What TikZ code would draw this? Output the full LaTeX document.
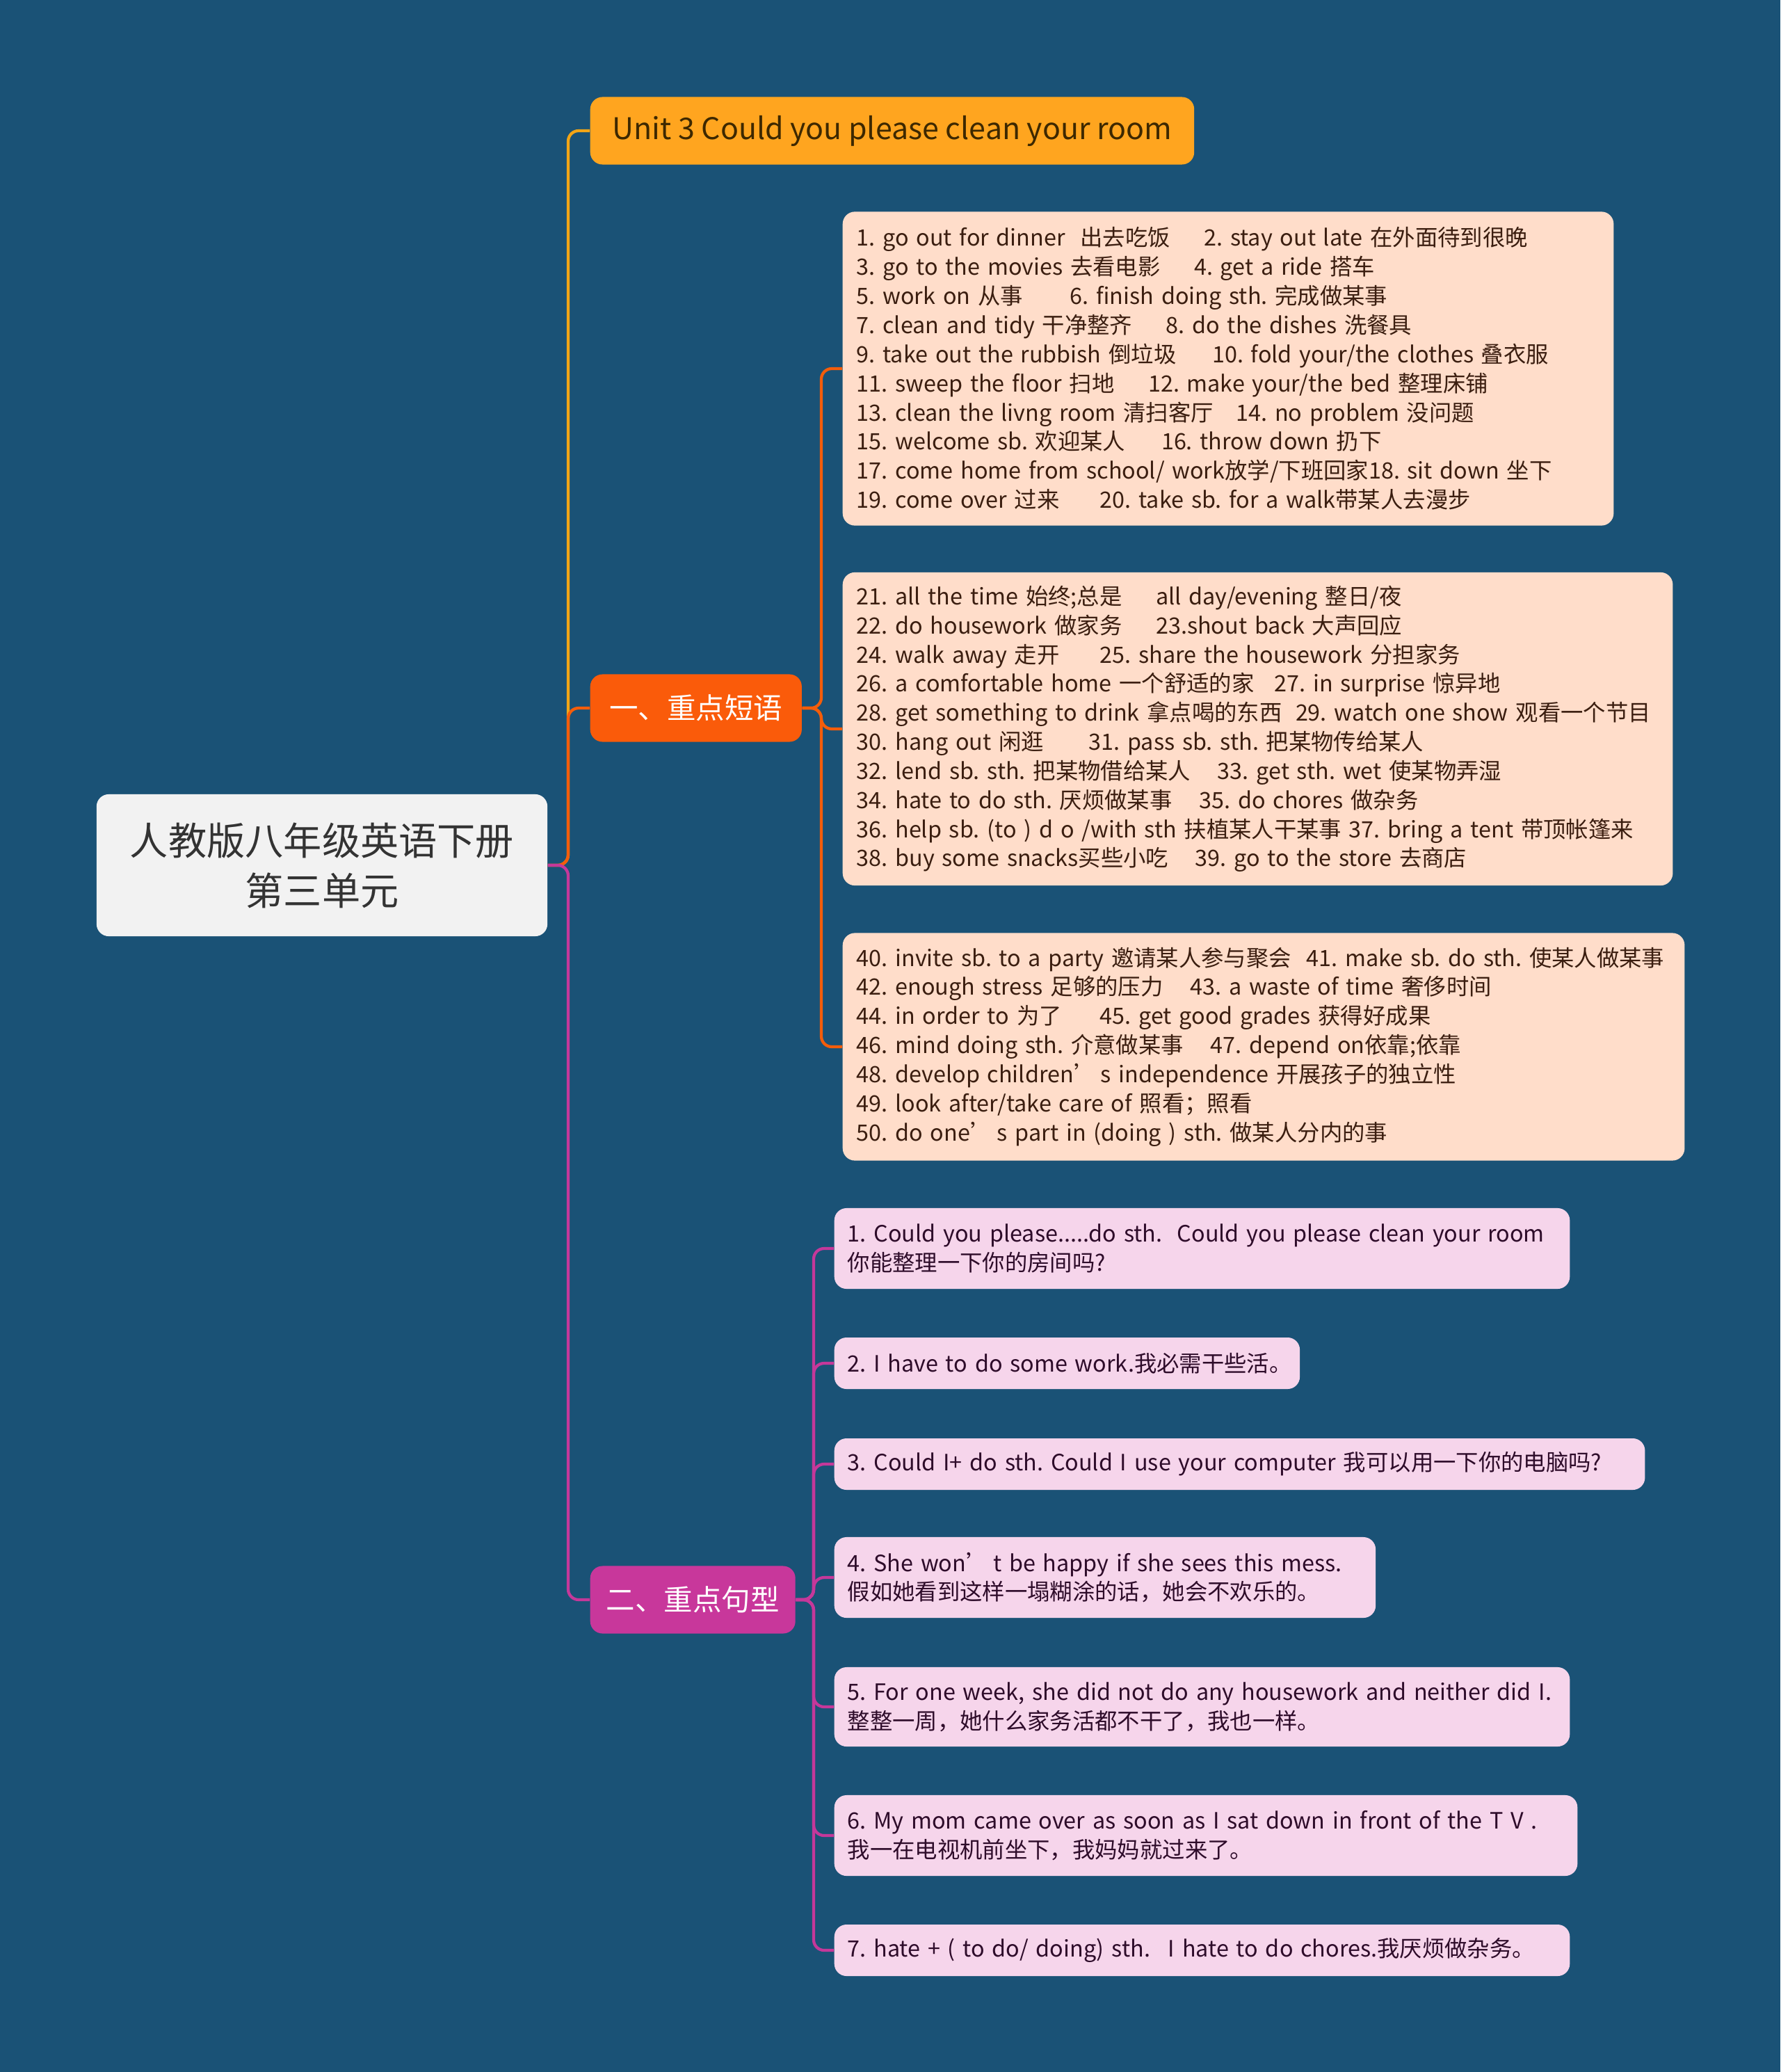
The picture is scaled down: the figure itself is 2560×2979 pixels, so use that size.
\documentclass[tikz,border=0pt]{standalone}
\usepackage{fontspec}
\setmainfont{Noto Sans CJK SC}
\usetikzlibrary{positioning}
\frenchspacing

\definecolor{bgblue}{HTML}{1A5276}
\definecolor{rootgray}{HTML}{F2F2F2}
\definecolor{rootink}{HTML}{333333}
\definecolor{unitgold}{HTML}{FFA51F}
\definecolor{unitink}{HTML}{3D2800}
\definecolor{yiorange}{HTML}{FA5B0A}
\definecolor{ermagenta}{HTML}{C8379B}
\definecolor{peach}{HTML}{FFDDCA}
\definecolor{peachink}{HTML}{3B1E10}
\definecolor{pinkfill}{HTML}{F6D5EB}
\definecolor{pinkink}{HTML}{2E0C2A}
\definecolor{goldline}{HTML}{F2A516}
\definecolor{orangeline}{HTML}{F45D0A}
\definecolor{magline}{HTML}{C5389A}

\newcommand{\gapw}[1]{\hspace*{#1em}}

\tikzset{
  rootbox/.style={fill=rootgray, text=rootink, rounded corners=5pt, align=center,
    minimum width=6.48cm, minimum height=2.04cm, font=\fontsize{15.7}{20.5}\selectfont},
  mainbox/.style={rounded corners=5pt, anchor=west, minimum height=0.97cm,
    inner xsep=0.23cm, font=\fontsize{11.8}{14}\selectfont},
  phrasebox/.style={fill=peach, text=peachink, rounded corners=5pt, anchor=west,
    align=left, inner xsep=0.2cm, font=\fontsize{9.2}{11.9}\selectfont},
  sentbox/.style={fill=pinkfill, text=pinkink, rounded corners=5pt, anchor=west,
    align=left, inner xsep=0.19cm, font=\fontsize{9.2}{11.9}\selectfont},
  link/.style={line width=1.2pt, rounded corners=0.15cm},
}

\begin{document}
\begin{tikzpicture}[x=0.01cm,y=-0.01cm]
    \fill[bgblue] (0,0) rectangle (2560,2979);
    \useasboundingbox (0,0) rectangle (2560,2979);

    % root and main topics
    \node[rootbox] (root) at (463,1244) {人教版八年级英语下册\\第三单元};
    \node[mainbox, fill=unitgold, text=unitink, minimum width=8.68cm, font=\fontsize{12.2}{14}\selectfont]
        (unit) at (848,188) {Unit 3 Could you please clean your room};
    \node[mainbox, fill=yiorange, text=white, minimum width=3.04cm] (yi) at (848,1018) {一、重点短语};
    \node[mainbox, fill=ermagenta, text=white, minimum width=2.92cm] (er) at (848,2300) {二、重点句型};

    % phrases
    \node[phrasebox, text width=10.68cm, minimum height=4.51cm] (p1) at (1211,530) {%
      1. go out for dinner~ 出去吃饭\gapw{1.5}2. stay out late 在外面待到很晚\\
      3. go to the movies 去看电影\gapw{1.5}4. get a ride 搭车\\
      5. work on 从事\gapw{2.1}6. finish doing sth. 完成做某事\\
      7. clean and tidy 干净整齐\gapw{1.5}8. do the dishes 洗餐具\\
      9. take out the rubbish 倒垃圾\gapw{1.6}10. fold your/the clothes 叠衣服\\
      11. sweep the floor 扫地\gapw{1.5}12. make your/the bed 整理床铺\\
      13. clean the livng room 清扫客厅\gapw{1}14. no problem 没问题\\
      15. welcome sb. 欢迎某人\gapw{1.6}16. throw down 扔下\\
      17. come home from school/ work放学/下班回家18. sit down 坐下\\
      19. come over 过来\gapw{1.8}20. take sb. for a walk带某人去漫步};
    \node[phrasebox, text width=11.53cm, minimum height=4.50cm] (p2) at (1211,1048) {%
      21. all the time 始终;总是\gapw{1.5}all day/evening 整日/夜\\
      22. do housework 做家务\gapw{1.5}23.shout back 大声回应\\
      24. walk away 走开\gapw{1.8}25. share the housework 分担家务\\
      26. a comfortable home 一个舒适的家\gapw{0.9}27. in surprise 惊异地\\
      28. get something to drink 拿点喝的东西\gapw{0.6}29. watch one show 观看一个节目\\
      30. hang out 闲逛\gapw{2}31. pass sb. sth. 把某物传给某人\\
      32. lend sb. sth. 把某物借给某人\gapw{1.2}33. get sth. wet 使某物弄湿\\
      34. hate to do sth. 厌烦做某事\gapw{1.2}35. do chores 做杂务\\
      36. help sb. (to ) d o /with sth 扶植某人干某事 37. bring a tent 带顶帐篷来\\
      38. buy some snacks买些小吃\gapw{1.2}39. go to the store 去商店};
    \node[phrasebox, text width=11.70cm, minimum height=3.27cm] (p3) at (1211,1505) {%
      40. invite sb. to a party 邀请某人参与聚会~ 41. make sb. do sth. 使某人做某事\\
      42. enough stress 足够的压力\gapw{1.2}43. a waste of time 奢侈时间\\
      44. in order to 为了\gapw{1.7}45. get good grades 获得好成果\\
      46. mind doing sth. 介意做某事\gapw{1.2}47. depend on依靠;依靠\\
      48. develop children’\gapw{0.2}s independence 开展孩子的独立性\\
      49. look after/take care of 照看；照看\\
      50. do one’\gapw{0.2}s part in (doing ) sth. 做某人分内的事};

    % sentences
    \node[sentbox, text width=10.19cm, minimum height=1.16cm] (s1) at (1199,1795)
        {1. Could you please.....do sth.~ Could you please clean your room\\你能整理一下你的房间吗?};
    \node[sentbox, text width=6.31cm, minimum height=0.74cm] (s2) at (1199,1960)
        {\mbox{2. I have to do some work.我必需干些活。}};
    \node[sentbox, text width=11.27cm, minimum height=0.74cm] (s3) at (1199,2105)
        {\mbox{3. Could I+ do sth. Could I use your computer 我可以用一下你的电脑吗?}};
    \node[sentbox, text width=7.40cm, minimum height=1.16cm] (s4) at (1199,2268)
        {4. She won’\gapw{0.2}t be happy if she sees this mess.\\假如她看到这样一塌糊涂的话，她会不欢乐的。};
    \node[sentbox, text width=10.19cm, minimum height=1.14cm] (s5) at (1199,2454)
        {5. For one week, she did not do any housework and neither did I.\\整整一周，她什么家务活都不干了，我也一样。};
    \node[sentbox, text width=10.30cm, minimum height=1.16cm] (s6) at (1199,2639)
        {6. My mom came over as soon as I sat down in front of the T V .\\我一在电视机前坐下，我妈妈就过来了。};
    \node[sentbox, text width=10.19cm, minimum height=0.74cm] (s7) at (1199,2804)
        {\mbox{7. hate + ( to do/ doing) sth.\gapw{0.8}I hate to do chores.我厌烦做杂务。}};

    % connectors
    \coordinate (trunk) at (817,1244);
    \coordinate (yiJ) at (1181,1018);
    \coordinate (erJ) at (1170,2300);

    \draw[link, goldline] (root.east) -- (trunk) |- (unit.west);
    \draw[link, orangeline] (root.east) -- (trunk) |- (yi.west);
    \draw[link, magline] (root.east) -- (trunk) |- (er.west);

    \foreach \p in {p1,p2,p3}
        \draw[link, orangeline] (yi.east) -- (yiJ) |- (\p.west);
    \foreach \s in {s1,s2,s3,s4,s5,s6,s7}
        \draw[link, magline] (er.east) -- (erJ) |- (\s.west);
\end{tikzpicture}
\end{document}
